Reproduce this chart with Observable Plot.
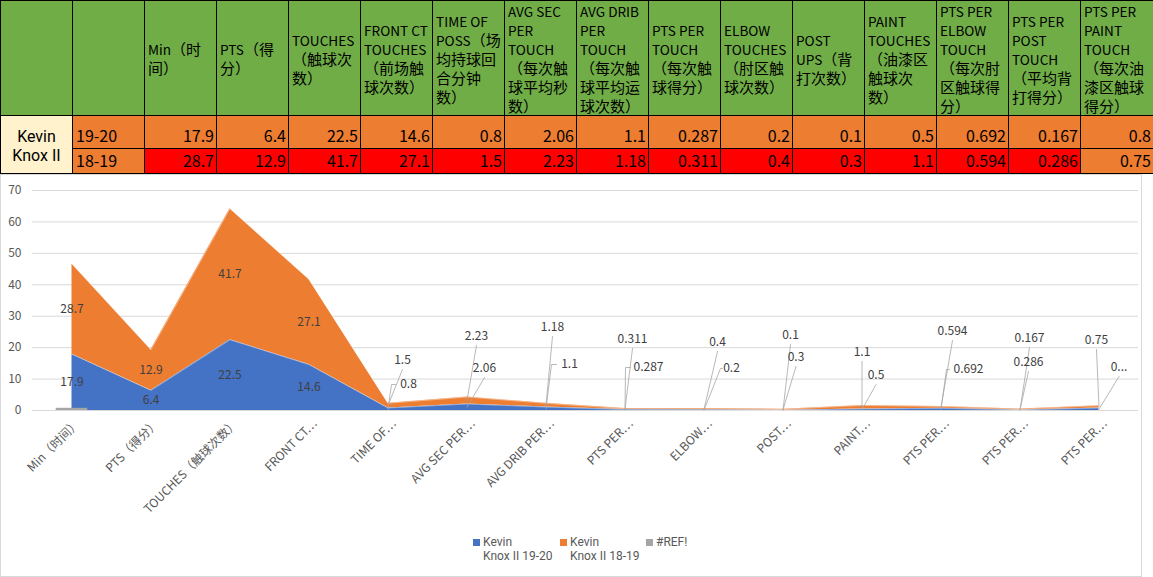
<!DOCTYPE html>
<html>
<head>
<meta charset="utf-8">
<script src="https://cdn.jsdelivr.net/npm/d3@7"></script>
<script src="https://cdn.jsdelivr.net/npm/@observablehq/plot@0.6"></script>
<style>
  html, body { margin: 0; padding: 0; background: #fff; }
  body { width: 1153px; height: 577px; overflow: hidden; position: relative;
         font-family: "Noto Sans CJK SC", "Noto Sans", sans-serif; }
  #tbl { position: absolute; left: 0; top: 0; border-collapse: collapse; table-layout: fixed; width: 1153px; }
  #tbl td { border: 1px solid #000; overflow: hidden; white-space: nowrap; color: #000; box-sizing: border-box; }
  #tbl td.h { background: #70AD47; font-size: 15px; vertical-align: middle;
              text-align: left; padding: 0 0 0 3px; }
  #tbl td.h div { height: 19px; line-height: 19px; overflow: visible; }
  #tbl td.h .lat { font-size: 13.6px; }
  #tbl td.v { font-size: 16px; line-height: 20px; vertical-align: bottom; text-align: right;
              padding: 0 2px 3px 0; }
  #tbl td.lab { text-align: left; padding-left: 3px; background: #ED7D31; }
  #tbl td.name { background: #FFF2CC; text-align: center; vertical-align: middle; font-size: 16px;
                 padding: 2px 0 0 0; font-family: Roboto, "Noto Sans CJK SC", sans-serif; }
  #tbl td.name div { line-height: 19px; height: 19px; }
  #frame { position: absolute; left: 0; top: 174px; width: 1142px; height: 403px;
           border: 1px solid #D9D9D9; box-sizing: border-box; }
  #chart { position: absolute; left: 0; top: 176px; }
  #legend { position: absolute; top: 0; left: 0; width: 1141px; font-size: 12px; color: #595959;
            font-family: Roboto, "Noto Sans CJK SC", sans-serif; }
  .ln { position: absolute; line-height: 14px; height: 14px; white-space: nowrap; }
  .sw { position: absolute; width: 7px; height: 7px; }
</style>
</head>
<body>
<table id="tbl"></table>
<div id="frame"></div>
<div id="chart"></div>
<div id="legend"></div>
<script>
// ---------------- data ----------------
const headerLines = [
  ["Min（时", "间）"],
  ["PTS（得", "分）"],
  ["TOUCHES", "（触球次", "数）"],
  ["FRONT CT", "TOUCHES", "（前场触", "球次数）"],
  ["TIME OF", "POSS（场", "均持球回", "合分钟", "数）"],
  ["AVG SEC", "PER", "TOUCH", "（每次触", "球平均秒", "数）"],
  ["AVG DRIB", "PER", "TOUCH", "（每次触", "球平均运", "球次数）"],
  ["PTS PER", "TOUCH", "（每次触", "球得分）"],
  ["ELBOW", "TOUCHES", "（肘区触", "球次数）"],
  ["POST", "UPS（背", "打次数）"],
  ["PAINT", "TOUCHES", "（油漆区", "触球次", "数）"],
  ["PTS PER", "ELBOW", "TOUCH", "（每次肘", "区触球得", "分）"],
  ["PTS PER", "POST", "TOUCH", "（平均背", "打得分）"],
  ["PTS PER", "PAINT", "TOUCH", "（每次油", "漆区触球", "得分）"]
];
const xTickLabels = ["Min（时间）", "PTS（得分）", "TOUCHES（触球次数）", "FRONT CT…", "TIME OF…",
  "AVG SEC PER…", "AVG DRIB PER…", "PTS PER…", "ELBOW…", "POST…", "PAINT…", "PTS PER…", "PTS PER…", "PTS PER…"];
const playerName = ["Kevin", "Knox II"];
const seasons = ["19-20", "18-19"];
const seriesNames = ["Kevin Knox II 19-20", "Kevin Knox II 18-19", "#REF!"];
const values1920 = [17.9, 6.4, 22.5, 14.6, 0.8, 2.06, 1.1, 0.287, 0.2, 0.1, 0.5, 0.692, 0.167, 0.8];
const values1819 = [28.7, 12.9, 41.7, 27.1, 1.5, 2.23, 1.18, 0.311, 0.4, 0.3, 1.1, 0.594, 0.286, 0.75];
const refValues = [0.7];       // the #REF! series, visible only at the first category
const yTicks = [0, 10, 20, 30, 40, 50, 60, 70];
// label text overrides (Excel truncated one label)
const labelText1920 = values1920.map(String); labelText1920[13] = "0...";

// ---------------- style / layout ----------------
const colors = ["#4472C4", "#ED7D31", "#A5A5A5"];
const cellRed = "#FF0000", cellOrange = "#ED7D31";
const row2Fill = values1819.map((v, i) => i === 13 ? cellOrange : cellRed);
const W = 1141, H = 360, mL = 32, mR = 3, mT = 14, mB = 126;
const pxX = (W - mL - mR) / 14, pxY = (H - mT - mB) / 70;
// moved data labels: [category, series(0 = 19-20, 1 = 18-19), dx px, height px above axis, leader, elbow dx, end dx]
const labelLayout = [
  [4, 1, 14.5, 50, "up"], [4, 0, 20.5, 26, "side", 3.5, 7.5],
  [5, 1, 9.5, 74, "up"], [5, 0, 17.5, 42, "up"],
  [6, 1, 6.5, 83, "up"], [6, 0, 23.5, 46, "side", 5.5, 10.5],
  [7, 1, 7.5, 71, "up"], [7, 0, 23.5, 43, "side", 0.5, 5.5],
  [8, 1, 13.5, 68, "up"], [8, 0, 27.5, 42, "side", 16.5, 18.5],
  [9, 0, 7.5, 75, "up"], [9, 1, 13, 53, "up"],
  [10, 1, 0, 58, "up"], [10, 0, 14, 35, "up"],
  [11, 1, 11.5, 79, "up"], [11, 0, 27.5, 41, "side", 5.5, 8.5],
  [12, 0, 9.5, 72, "up"], [12, 1, 8.5, 48, "up"],
  [13, 1, -2.5, 70, "up"], [13, 0, 20, 43, "up"]
];

// ---------------- table ----------------
const wrapLatin = s => s.replace(/([A-Za-z][A-Za-z ]*)/g, '<span class="lat">$1</span>');
const tbl = document.getElementById("tbl");
let html = "<colgroup>" + d3.range(16).map(i => `<col style="width:${i === 15 ? 73 : 72}px">`).join("") + "</colgroup>";
html += `<tr style="height:114px"><td class="h"></td><td class="h"></td>` +
  headerLines.map(l => `<td class="h">${l.map(s => `<div>${wrapLatin(s)}</div>`).join("")}</td>`).join("") + "</tr>";
html += `<tr style="height:33px"><td class="name" rowspan="2">${playerName.map(s => `<div>${s}</div>`).join("")}</td>` +
  `<td class="v lab">${seasons[0]}</td>` +
  values1920.map(v => `<td class="v" style="background:${cellOrange}">${v}</td>`).join("") + "</tr>";
html += `<tr style="height:25px"><td class="v lab">${seasons[1]}</td>` +
  values1819.map((v, i) => `<td class="v" style="background:${row2Fill[i]}">${v}</td>`).join("") + "</tr>";
tbl.innerHTML = html;

// ---------------- chart ----------------
const rows = values1920.map((v, i) => ({i, a: v, b: values1819[i], top: v + values1819[i]}));
const refRows = refValues.map((v, i) => ({i, v}));

const inner = rows.filter(d => d.i < 4).flatMap(d => [
  {x: d.i, y: d.a / 2, t: String(d.a)},
  {x: d.i, y: d.a + d.b / 2, t: String(d.b)}
]);
const moved = [], leaders = [];
labelLayout.forEach(([i, s, dx, h, kind, ex1, ex2], k) => {
  const d = rows[i];
  const mid = s === 0 ? d.a / 2 : d.a + d.b / 2;
  const lx = i + dx / pxX, ly = h / pxY;
  moved.push({x: lx, y: ly, t: s === 0 ? labelText1920[i] : String(values1819[i])});
  leaders.push({id: k, x: i, y: mid});
  if (kind === "up") {
    leaders.push({id: k, x: lx, y: ly - 9 / pxY});
  } else {
    leaders.push({id: k, x: i + ex1 / pxX, y: ly});
    leaders.push({id: k, x: i + ex2 / pxX, y: ly});
  }
});

const font = '"Noto Sans CJK SC", "Noto Sans", sans-serif';
const chart = Plot.plot({
  width: W, height: H, marginLeft: mL, marginRight: mR, marginTop: mT, marginBottom: mB,
  x: {type: "linear", domain: [-0.5, 13.5]},
  y: {domain: [0, 70]},
  style: {fontFamily: font, fontSize: "12px", background: "transparent", overflow: "visible"},
  marks: [
    Plot.gridY(yTicks, {stroke: "#D9D9D9", strokeOpacity: 1}),
    Plot.ruleY([0], {stroke: "#D9D9D9"}),
    Plot.areaY(rows, {x: "i", y1: 0, y2: "a", fill: colors[0]}),
    Plot.areaY(rows, {x: "i", y1: "a", y2: "top", fill: colors[1]}),
    Plot.lineY(rows, {x: "i", y: "a", stroke: "#fff", strokeWidth: 0.6, strokeOpacity: 0.7}),
    Plot.lineY(rows, {x: "i", y: "top", stroke: "#fff", strokeWidth: 0.6, strokeOpacity: 0.7}),
    Plot.rect(refRows, {x1: d => d.i - 0.2, x2: d => d.i + 0.2, y1: 0, y2: "v", fill: colors[2]}),
    Plot.line(leaders, {x: "x", y: "y", z: "id", stroke: "#A6A6A6", strokeWidth: 0.8, curve: "linear"}),
    Plot.text(inner, {x: "x", y: "y", text: "t", fill: "#404040", fontSize: 12}),
    Plot.text(moved, {x: "x", y: "y", text: "t", fill: "#404040", fontSize: 12}),
    Plot.axisY({ticks: yTicks, tickSize: 0, tickPadding: 11, label: null, color: "#595959", fontSize: 12}),
    Plot.axisX({ticks: d3.range(14), tickFormat: i => xTickLabels[i], tickRotate: -45, tickSize: 0,
                tickPadding: 8, dx: 6, dy: 3, label: null, color: "#595959", fontSize: 12})
  ]
});
document.getElementById("chart").appendChild(chart);

// ---------------- legend ----------------
const legendX = [483, 570, 656];
const legendText = [["Kevin", "Knox II 19-20"], ["Kevin", "Knox II 18-19"], ["#REF!"]];
document.getElementById("legend").innerHTML = seriesNames.map((s, k) =>
  `<div class="sw" style="left:${legendX[k] - 10}px;top:539px;background:${colors[k]}"></div>` +
  legendText[k].map((t, j) => `<div class="ln" style="left:${legendX[k]}px;top:${535 + j * 14}px">${t}</div>`).join("")
).join("");
</script>
</body>
</html>
